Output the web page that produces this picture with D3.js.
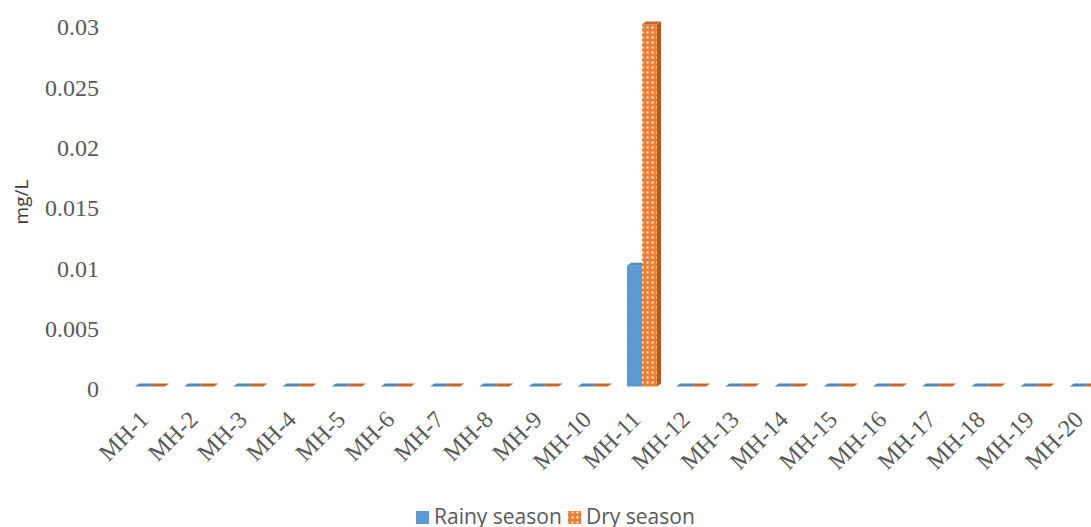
<!DOCTYPE html>
<html><head><meta charset="utf-8">
<script src="https://cdn.jsdelivr.net/npm/d3@7"></script>
<style>
body{margin:0;background:#fff;}
svg{display:block;}
</style></head>
<body>
<svg id="c" width="1091" height="527"></svg>
<script>
const categories = ["MH-1","MH-2","MH-3","MH-4","MH-5","MH-6","MH-7","MH-8","MH-9","MH-10","MH-11","MH-12","MH-13","MH-14","MH-15","MH-16","MH-17","MH-18","MH-19","MH-20"];
const rainy = [0,0,0,0,0,0,0,0,0,0,0.01,0,0,0,0,0,0,0,0,0];
const dry   = [0,0,0,0,0,0,0,0,0,0,0.03,0,0,0,0,0,0,0,0,0];
const yTicks = [0,0.005,0.01,0.015,0.02,0.025,0.03];
const tickLabels = ["0","0.005","0.01","0.015","0.02","0.025","0.03"];
const seriesNames = ["Rainy season","Dry season"];

const svg = d3.select("#c");
const defs = svg.append("defs");
const pat = defs.append("pattern").attr("id","dots").attr("patternUnits","userSpaceOnUse")
  .attr("width",5).attr("height",5);
pat.append("rect").attr("width",5).attr("height",5).attr("fill","#ED7D31");
pat.append("rect").attr("x",1.5).attr("y",1.5).attr("width",2).attr("height",2).attr("fill","#fdf0e6");

const x = d3.scaleBand().domain(categories).range([125.4,1109.4]).padding(0);
const y = d3.scaleLinear().domain([0,0.03]).range([389,27]);

// y axis
const yAxis = d3.axisLeft(y).tickValues(yTicks).tickFormat((d,i)=>tickLabels[i]).tickSize(0).tickPadding(0);
const gy = svg.append("g").attr("transform","translate(99,0)").call(yAxis);
gy.select(".domain").remove();
gy.selectAll("text").attr("font-family","'Liberation Serif','Times New Roman',serif")
  .attr("font-size","24px").attr("fill","#595959");

// x axis labels
const xAxis = d3.axisBottom(x).tickSize(0).tickPadding(0);
const gx = svg.append("g").attr("transform","translate(0,0)").call(xAxis);
gx.select(".domain").remove();
gx.selectAll(".tick").attr("transform", d => `translate(${x(d)+x.bandwidth()/2},0)`);
gx.selectAll("text").attr("font-family","'Liberation Serif','Times New Roman',serif")
  .attr("font-size","24px").attr("fill","#595959")
  .attr("text-anchor","end").attr("y",0).attr("dy","0")
  .attr("transform","translate(0,421) rotate(-45)");

// 3D bars
const bw = x.bandwidth()*0.305;
const dx = 4, dyD = 3, off = 2.5;
const series = [
  {vals: rainy, front:"#5B9BD5", side:"#41719C", top:"#4F88BC", shift:-1},
  {vals: dry, front:"url(#dots)", side:"#AE5A21", top:"#C9672A", shift:0}
];
series.forEach(s=>{
  const g = svg.append("g");
  categories.forEach((c,i)=>{
    const v = s.vals[i];
    const cx = x(c)+x.bandwidth()/2;
    const x0 = cx + s.shift*bw;
    const x1 = x0 + bw;
    const yb = y(0)-off;
    const yt = y(v)-off;
    if (yb-yt>0) g.append("rect").attr("x",x0).attr("y",yt).attr("width",bw).attr("height",yb-yt).attr("fill",s.front);
    g.append("path").attr("d",`M${x1},${yt}L${x1+dx},${yt-dyD}L${x1+dx},${yb-dyD}L${x1},${yb}Z`).attr("fill",s.side);
    g.append("path").attr("d",`M${x0},${yt}L${x0+dx},${yt-dyD}L${x1+dx},${yt-dyD}L${x1},${yt}Z`).attr("fill",s.top);
  });
});

// y title
svg.append("text").attr("transform","translate(28,202) rotate(-90)").attr("text-anchor","middle")
  .attr("font-family","'Open Sans','Noto Sans',sans-serif").attr("font-size","19px").attr("fill","#404040").text("mg/L");

// legend
const lg = svg.append("g");
const legItems = [{x:416, fill:"#5B9BD5"},{x:568, fill:"url(#dots)"}];
legItems.forEach((it,i)=>{
  lg.append("rect").attr("x",it.x).attr("y",511).attr("width",13).attr("height",13).attr("fill",it.fill);
  lg.append("text").attr("x",it.x+18).attr("y",524).attr("font-family","'Open Sans','Noto Sans',sans-serif")
    .attr("font-size","21px").attr("fill","#595959").text(seriesNames[i]);
});
</script>
</body></html>
